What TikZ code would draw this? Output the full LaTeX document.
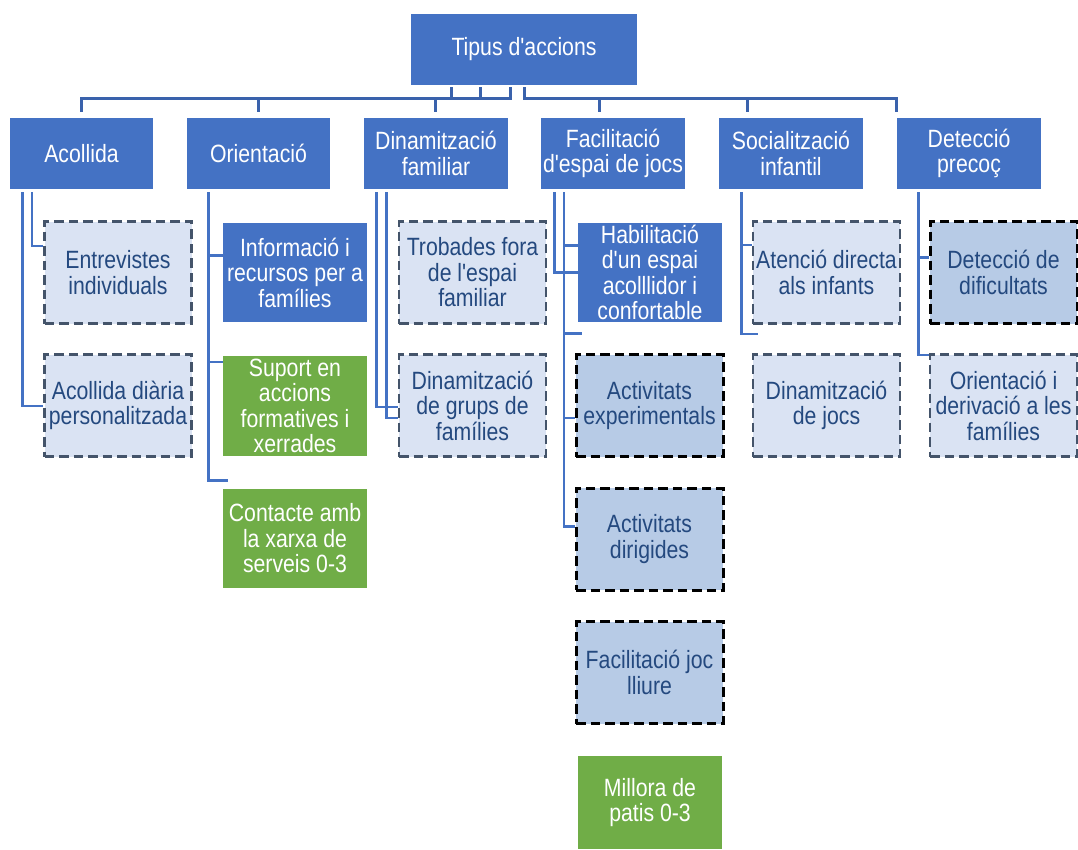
\documentclass[tikz,border=0pt]{standalone}
\usepackage{fontspec}
\setmainfont{Liberation Sans}[FakeStretch=0.85,Ligatures=TeXOff]
\definecolor{mainblue}{HTML}{4472C4}
\definecolor{busblue}{HTML}{3A62AC}
\definecolor{leafgreen}{HTML}{70AD47}
\definecolor{palefill}{HTML}{DAE3F3}
\definecolor{midfill}{HTML}{B7CBE6}
\definecolor{slate}{HTML}{44546A}
\definecolor{navytext}{HTML}{24497F}
\begin{document}
\begin{tikzpicture}[x=1pt,y=-1pt,
  every node/.style={inner sep=0pt,align=center,font=\fontsize{25}{25.5}\selectfont},
  head/.style={fill=mainblue,text=white,minimum width=143.5pt,minimum height=71pt},
  solidbox/.style={fill=mainblue,text=white,minimum width=144pt,minimum height=99.5pt},
  greenbox/.style={fill=leafgreen,text=white,minimum width=144pt,minimum height=99.5pt},
  palebox/.style={fill=palefill,text=navytext,draw=slate,line width=2.8pt,
    dash pattern=on 9.5pt off 5pt,minimum width=147pt,minimum height=102pt},
  midbox/.style={fill=midfill,text=navytext,draw=black,line width=3pt,
    dash pattern=on 9.5pt off 5pt,minimum width=147pt,minimum height=102pt},
  bus/.style={draw=busblue,line width=3pt},
  conn/.style={draw=mainblue,line width=2.6pt}]
\useasboundingbox (0,0) rectangle (1078,849);

% root
\node[head,minimum width=226.5pt] (top) at (524,49.5) {Tipus d'accions};

% first level
\node[head] (acollida) at (81.5,153.5) {Acollida};
\node[head] (orient)   at (258.5,153.5) {Orientació};
\node[head] (dinam)    at (436,153.5) {Dinamització\\familiar};
\node[head] (facil)    at (613,153.5) {Facilitació\\d'espai de jocs};
\node[head] (social)   at (791,153.5) {Socialització\\infantil};
\node[head] (detec)    at (969,153.5) {Detecció\\precoç};

% second level
\node[palebox] (entrev)  at (118,272.5) {Entrevistes\\individuals};
\node[palebox] (acdia)   at (118,405.5) {Acollida diària\\personalitzada};

\node[solidbox] (info)     at (295,272.5) {Informació i\\recursos per a\\famílies};
\node[greenbox] (suport)   at (295,406) {Suport en\\accions\\formatives i\\xerrades};
\node[greenbox] (contacte) at (295,538.5) {Contacte amb\\la xarxa de\\serveis 0-3};

\node[palebox] (trobades) at (472.5,272.5) {Trobades fora\\de l'espai\\familiar};
\node[palebox] (grups)    at (472.5,405.5) {Dinamització\\de grups de\\famílies};

\node[solidbox] (habil) at (650,272.3) {Habilitació\\d'un espai\\acolllidor i\\confortable};
\node[midbox] (expt)    at (649.5,405.5) {Activitats\\experimentals};
\node[midbox] (dirig)   at (649.5,539) {Activitats\\dirigides};
\node[midbox] (lliure)  at (649.5,672.5) {Facilitació joc\\lliure};
\node[greenbox,minimum height=93pt] (millora) at (650,802.5) {Millora de\\patis 0-3};

\node[palebox] (atencio) at (826.5,272.5) {Atenció directa\\als infants};
\node[palebox] (djocs)   at (826.5,405.5) {Dinamització\\de jocs};

\node[midbox]  (dific)    at (1003.5,272.5) {Detecció de\\dificultats};
\node[palebox] (orideriv) at (1003.5,405.5) {Orientació i\\derivació a les\\famílies};

% bus from the root, left half
\draw[bus] ([yshift=6pt]acollida.north) |- ([xshift=-14pt,yshift=-13.7pt]top.south)
  -- ([xshift=-14pt,yshift=-2pt]top.south);
\draw[bus] ([xshift=-72.3pt,yshift=-2pt]top.south) -- ++(0,11.7);
\draw[bus] ([xshift=-43.3pt,yshift=-2pt]top.south) -- ++(0,11.7);
\draw[bus] ([yshift=6pt]orient.north) -- ++(0,-13.3);
\draw[bus] ([xshift=-1pt,yshift=6pt]dinam.north) -- ++(0,-13.3);

% bus from the root, right half
\draw[bus] ([xshift=0.3pt,yshift=-2pt]top.south) |- ([xshift=-73pt,yshift=19.3pt]detec.north)
  -- ([xshift=-73pt,yshift=6pt]detec.north);
\draw[bus] ([xshift=-14pt,yshift=6pt]facil.north) -- ++(0,-13.3);
\draw[bus] ([xshift=-44pt,yshift=6pt]social.north) -- ++(0,-13.3);

% Acollida
\draw[conn] ([xshift=22.3pt,yshift=-3pt]acollida.south west) |- ([yshift=-25.7pt]entrev.north west);
\draw[conn] ([xshift=12.7pt,yshift=-3pt]acollida.south west) |- ([yshift=-52.7pt]acdia.north west);

% Orientació
\draw[conn] ([xshift=22pt,yshift=-3pt]orient.south west) |- ([xshift=4.7pt,yshift=8pt]contacte.north west);
\draw[conn] ([yshift=-33pt]info.north west) -- ++(-14,0);
\draw[conn] ([yshift=-6pt]suport.north west) -- ++(-14,0);

% Dinamització familiar
\draw[conn] ([xshift=12.7pt,yshift=-3pt]dinam.south west) |- ([yshift=-53.7pt]grups.north west);
\draw[conn] ([xshift=22.7pt,yshift=-3pt]dinam.south west) |- ([yshift=-65pt]grups.north west);

% Facilitació d'espai de jocs
\draw[conn] ([xshift=13.3pt,yshift=-3pt]facil.south west) |- ([yshift=-50pt]habil.north west);
\draw[conn] ([xshift=23pt,yshift=-3pt]facil.south west) |- ([yshift=-40pt]dirig.north west);
\draw[conn] ([yshift=-23.3pt]habil.north west) -- ++(-14,0);
\draw[conn] ([xshift=4pt,yshift=-11pt]habil.south west) -- ++(-18,0);
\draw[conn] ([yshift=-65pt]expt.north west) -- ++(-12,0);

% Socialització infantil
\draw[conn] ([xshift=22.3pt,yshift=-3pt]social.south west) |- ([xshift=6pt,yshift=-9pt]atencio.south west);
\draw[conn] ([yshift=-25pt]atencio.north west) -- ++(-11.7,0);

% Detecció precoç
\draw[conn] ([xshift=21.3pt,yshift=-3pt]detec.south west) |- ([yshift=-2pt]orideriv.north west);
\draw[conn] ([yshift=-37.7pt]dific.north west) -- ++(-11.7,0);
\end{tikzpicture}
\end{document}
